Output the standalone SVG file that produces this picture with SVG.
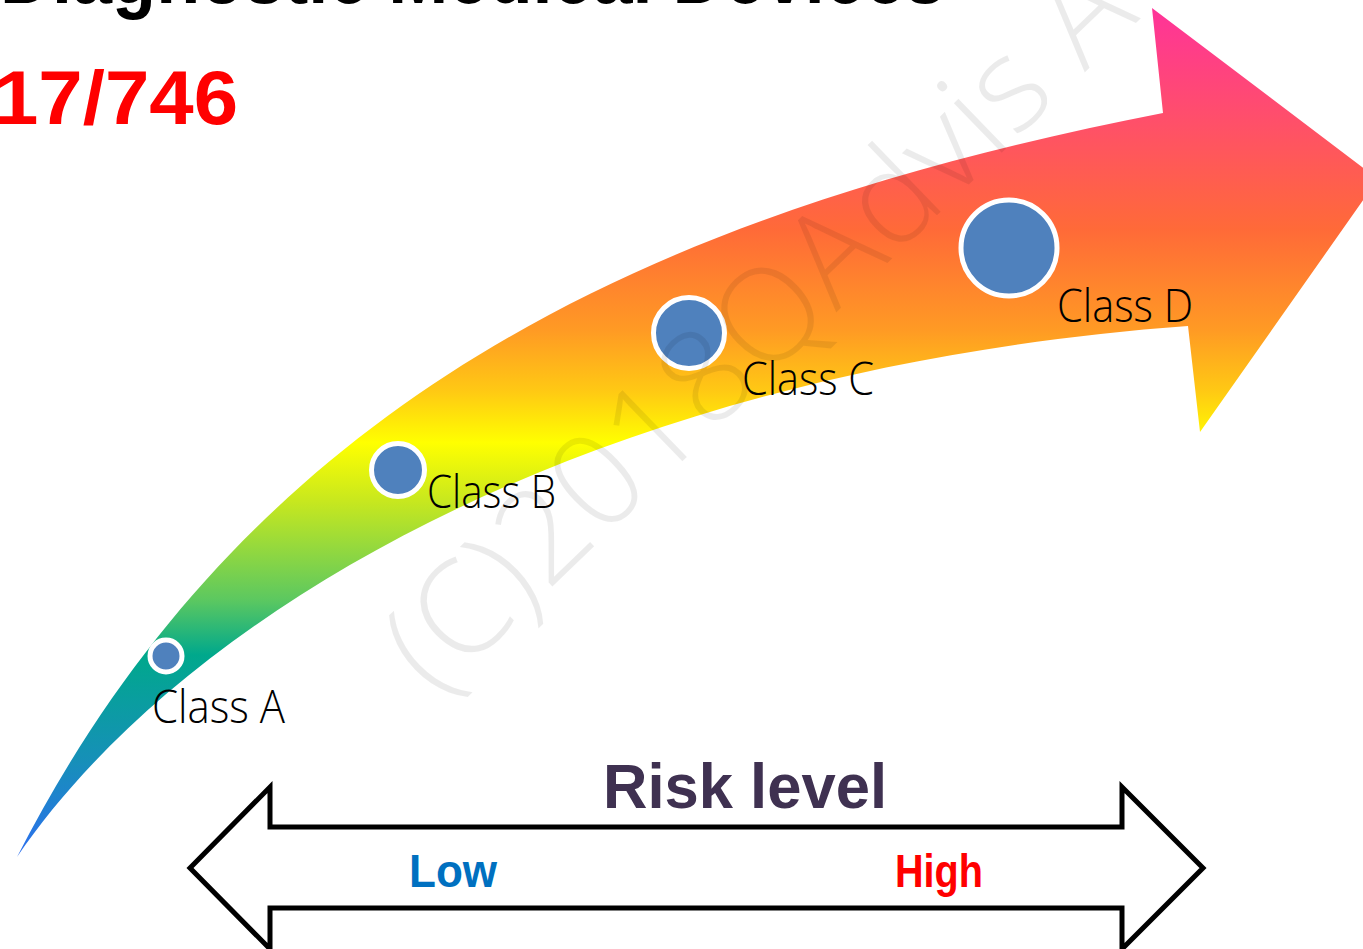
<svg xmlns="http://www.w3.org/2000/svg" width="1363" height="949" viewBox="0 0 1363 949">
  <defs>
    <!-- vertical rainbow running from the arrow head down to the tail -->
    <linearGradient id="bandFill" gradientUnits="userSpaceOnUse" x1="0" y1="8" x2="0" y2="857">
      <stop offset="0" stop-color="#ff3399"/>
      <stop offset="0.132" stop-color="#ff4f6a"/>
      <stop offset="0.261" stop-color="#ff6a38"/>
      <stop offset="0.379" stop-color="#ff9a24"/>
      <stop offset="0.45" stop-color="#ffc814"/>
      <stop offset="0.512" stop-color="#ffff00"/>
      <stop offset="0.58" stop-color="#c8e81e"/>
      <stop offset="0.697" stop-color="#5cc860"/>
      <stop offset="0.762" stop-color="#00a88c"/>
      <stop offset="0.885" stop-color="#1690b8"/>
      <stop offset="1" stop-color="#2d6ff0"/>
    </linearGradient>
    <style>
      .dot { fill: #4f81bd; stroke: #ffffff; stroke-width: 5; }
      .cls { font-family: "Open Sans", "Lato", "Noto Sans", sans-serif; font-weight: 300; font-size: 46px; fill: #000000; }
      .bold { font-family: "Liberation Sans", Arial, sans-serif; font-weight: bold; }
      .wm { font-family: "Open Sans", "Lato", "Noto Sans", sans-serif; font-weight: 300; font-size: 130px; fill: #000000; fill-opacity: 0.08; }
    </style>
  </defs>

  <rect width="1363" height="949" fill="#ffffff"/>

  <!-- headings -->
  <g id="title">
    <text class="bold" x="0" y="3" font-size="80" fill="#000000" textLength="945" lengthAdjust="spacingAndGlyphs">Diagnostic Medical Devices</text>
  </g>
  <g id="regulation">
    <text class="bold" x="-6" y="124" font-size="76" fill="#ff0000" textLength="244" lengthAdjust="spacingAndGlyphs">17/746</text>
  </g>

  <!-- curved rising arrow -->
  <g id="risk-curve">
    <path fill="url(#bandFill)" d="M17,857 C253.5,395 657,212 1163,113 L1152,8 L1378,179 L1200,432 L1188,326 C588,370 182,615 17,857 Z"/>
  </g>

  <!-- device classes -->
  <g id="class-a">
    <circle class="dot" cx="166" cy="656" r="16"/>
    <text class="cls" x="152" y="723" textLength="133" lengthAdjust="spacingAndGlyphs">Class A</text>
  </g>
  <g id="class-b">
    <circle class="dot" cx="398" cy="470" r="26.5"/>
    <text class="cls" x="427" y="508" textLength="129" lengthAdjust="spacingAndGlyphs">Class B</text>
  </g>
  <g id="class-c">
    <circle class="dot" cx="689" cy="333" r="35.5"/>
    <text class="cls" x="742" y="395" textLength="132" lengthAdjust="spacingAndGlyphs">Class C</text>
  </g>
  <g id="class-d">
    <circle class="dot" cx="1009" cy="248" r="48"/>
    <text class="cls" x="1057" y="322" textLength="136" lengthAdjust="spacingAndGlyphs">Class D</text>
  </g>

  <!-- risk scale double arrow -->
  <g id="risk-scale">
    <path d="M190,868 L270,787 L270,827 L1122,827 L1122,787 L1203,868 L1122,949 L1122,908 L270,908 L270,949 Z" fill="#ffffff" stroke="#000000" stroke-width="5" stroke-linejoin="miter"/>
    <text class="bold" x="603" y="808" font-size="63" fill="#3f3151" textLength="284" lengthAdjust="spacingAndGlyphs">Risk level</text>
    <text class="bold" x="409" y="887" font-size="47" fill="#0070c0" textLength="88" lengthAdjust="spacingAndGlyphs">Low</text>
    <text class="bold" x="895" y="887" font-size="47" fill="#ff0000" textLength="88" lengthAdjust="spacingAndGlyphs">High</text>
  </g>

  <!-- copyright watermark -->
  <g id="watermark">
    <text class="wm" transform="translate(436,699) rotate(-44)" x="0" y="0" textLength="980">(C)2018QAdvis A</text>
  </g>
</svg>
